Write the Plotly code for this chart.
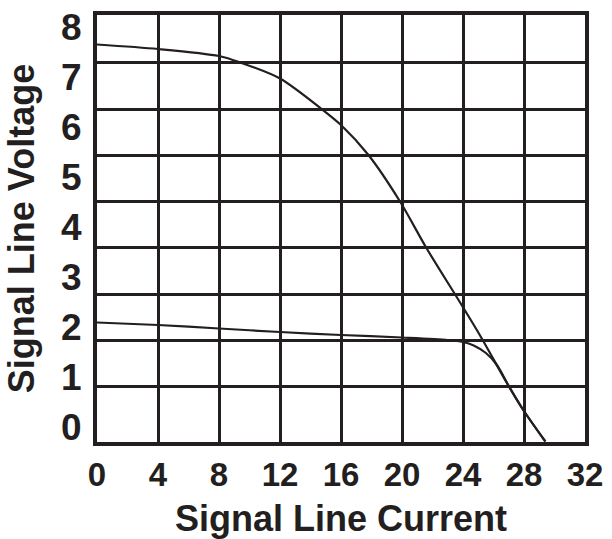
import plotly.graph_objects as go

# Data (voltage in label units)
current_upper = [0, 4, 8, 9.4, 12, 14.73, 16, 17.8, 19.87, 21.6, 23.85, 25.1, 26.9, 27.95, 29.4]
voltage_upper = [7.65, 7.56, 7.42, 7.29, 6.97, 6.36, 6.04, 5.44, 4.51, 3.58, 2.47, 1.84, 0.87, 0.34, -0.29]

current_lower = [0, 4, 8, 12, 16, 20, 23, 24, 24.7, 25.5, 26.2, 27, 28, 29.4]
voltage_lower = [2.09, 2.04, 1.97, 1.90, 1.84, 1.79, 1.74, 1.70, 1.63, 1.48, 1.25, 0.82, 0.32, -0.29]

x_ticks = [0, 4, 8, 12, 16, 20, 24, 28, 32]
y_ticks = [0, 1, 2, 3, 4, 5, 6, 7, 8]
# horizontal grid lines of the drawing (they do not coincide with the labels)
y_grid = [0.82, 1.74, 2.66, 3.586, 4.506, 5.44, 6.36, 7.286]

ink = "#231f20"
font_family = "Liberation Sans, Arial, sans-serif"

fig = go.Figure()
for xs, ys in [(current_upper, voltage_upper), (current_lower, voltage_lower)]:
    fig.add_trace(go.Scatter(x=xs, y=ys, mode="lines",
                             line=dict(color=ink, width=2.2, shape="spline", smoothing=0.8),
                             showlegend=False, hoverinfo="skip"))
# invisible trace to activate the grid axis
fig.add_trace(go.Scatter(x=[0], y=[0], yaxis="y2", mode="markers",
                         marker=dict(opacity=0), showlegend=False, hoverinfo="skip"))

yrange = [-0.3, 8.24]
fig.update_layout(
    width=612, height=539,
    margin=dict(l=97, r=27, t=15, b=97),
    paper_bgcolor="white", plot_bgcolor="white",
    font=dict(family=font_family, color=ink),
    xaxis=dict(range=[0, 32], tickvals=x_ticks, ticktext=[str(v) for v in x_ticks],
               automargin=False,
               showgrid=True, gridcolor=ink, gridwidth=2.5, zeroline=False,
               showline=True, linecolor=ink, linewidth=4, mirror=True,
               ticks="", ticklabelstandoff=0,
               tickfont=dict(size=33, weight="bold", family=font_family, color=ink),
               title=dict(text="Signal Line Current", standoff=20,
                          font=dict(size=36, weight="bold", family=font_family, color=ink))),
    yaxis=dict(range=yrange, tickvals=y_ticks, ticktext=[str(v) for v in y_ticks],
               automargin=False,
               showgrid=False, zeroline=False,
               showline=True, linecolor=ink, linewidth=4, mirror=True,
               ticks="", ticklabelstandoff=4,
               tickfont=dict(size=37, weight="bold", family=font_family, color=ink),
               title=dict(text="Signal Line Voltage", standoff=16,
                          font=dict(size=36, weight="bold", family=font_family, color=ink))),
    yaxis2=dict(range=yrange, overlaying="y", tickvals=y_grid, showticklabels=False,
                automargin=False,
                showgrid=True, gridcolor=ink, gridwidth=2.5, zeroline=False,
                showline=False, ticks=""),
)

fig.write_html("out.html", config={"displayModeBar": False},
               post_script="document.body.style.margin='0';document.body.style.overflow='hidden';")
